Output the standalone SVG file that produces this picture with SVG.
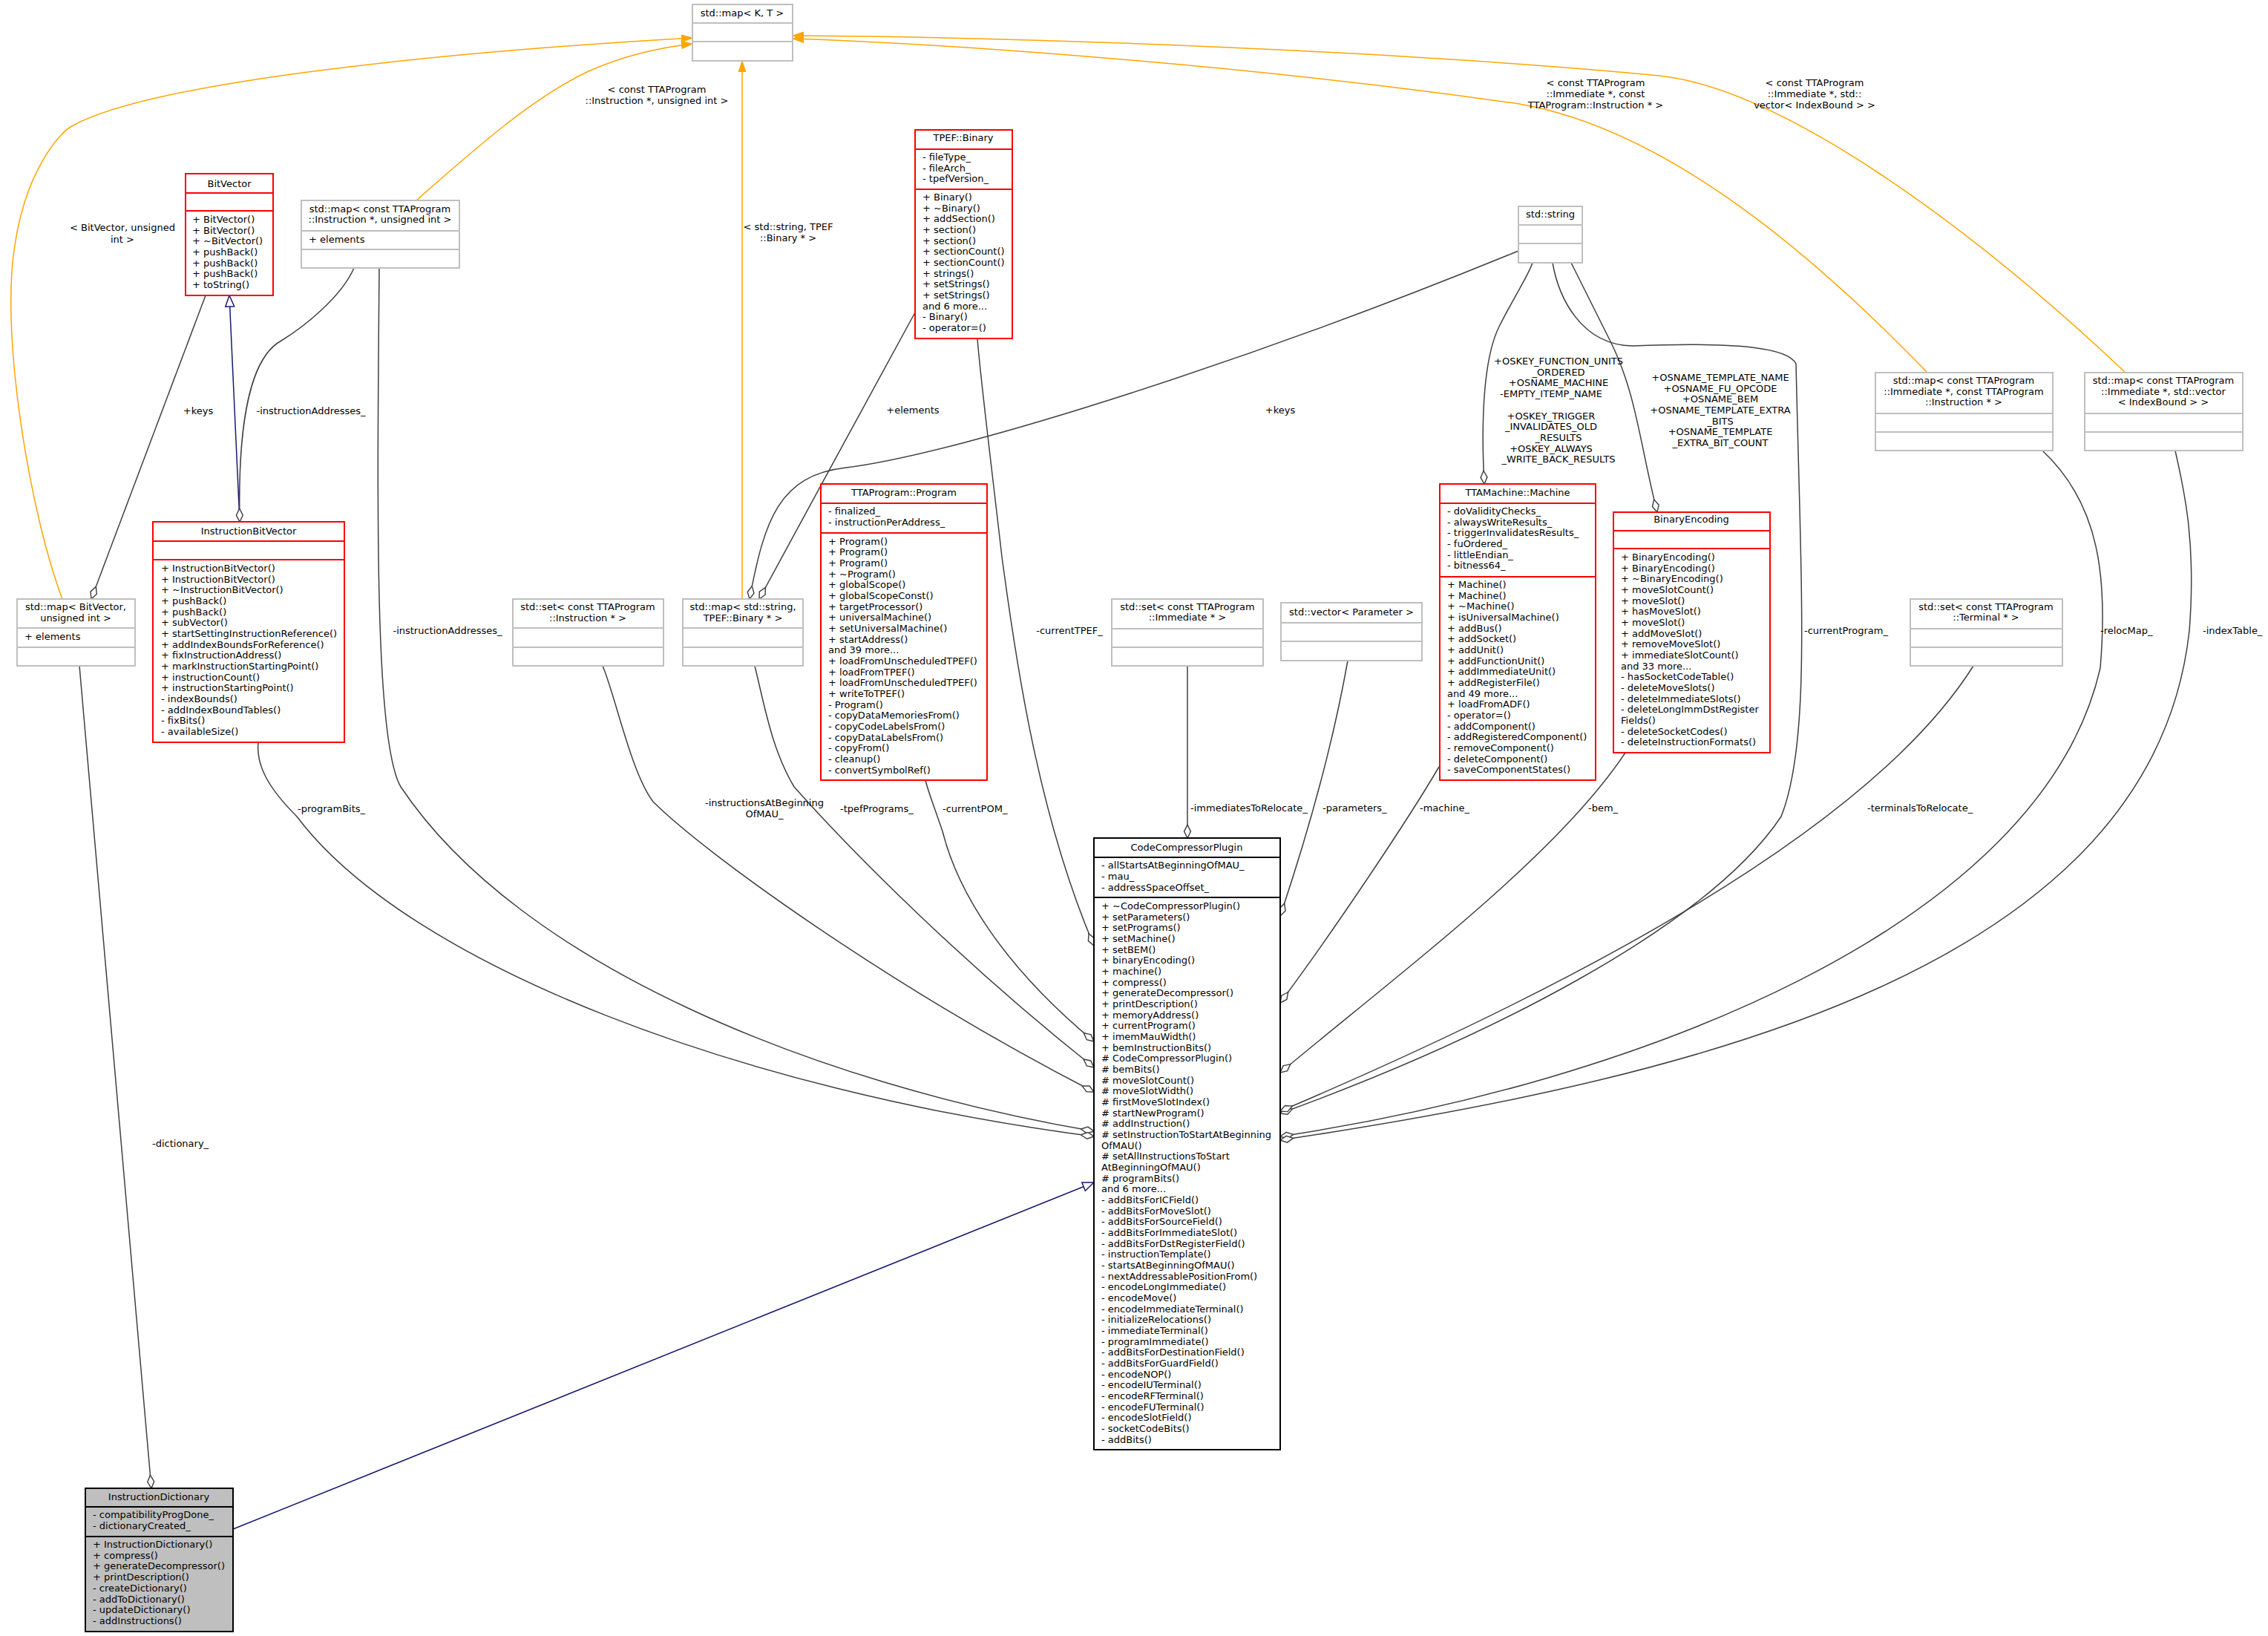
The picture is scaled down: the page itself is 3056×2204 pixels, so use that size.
<svg xmlns="http://www.w3.org/2000/svg" width="3056" height="2204" viewBox="0 0 3056 2204">
<style>
text{font-family:"DejaVu Sans","Liberation Sans",sans-serif;font-size:13px;fill:#000}
.c{text-anchor:middle}
.bx{fill:#fff;stroke-width:2}
.red{stroke:#ff0000}
.gry{stroke:#bfbfbf}
.blk{stroke:#000}
.sep{stroke-width:2}
.e{fill:none;stroke:#404040;stroke-width:1.5}
.o{fill:none;stroke:#ffa500;stroke-width:1.5}
.n{fill:none;stroke:#191970;stroke-width:1.5}
</style>
<defs>
<marker id="dia" markerUnits="userSpaceOnUse" markerWidth="20" markerHeight="12" refX="0" refY="5" orient="auto" viewBox="0 0 18 10"><path d="M0,5 L8,1 L16,5 L8,9 Z" fill="#fff" stroke="#404040" stroke-width="1.3"/></marker>
<marker id="oar" markerUnits="userSpaceOnUse" markerWidth="16" markerHeight="12" refX="15" refY="6" orient="auto" viewBox="0 0 16 12"><path d="M0,1 L15,6 L0,11 Z" fill="#ffa500" stroke="#ffa500"/></marker>
<marker id="gen" markerUnits="userSpaceOnUse" markerWidth="18" markerHeight="14" refX="16" refY="7" orient="auto" viewBox="0 0 18 14"><path d="M1,1 L16,7 L1,13 Z" fill="#fff" stroke="#191970" stroke-width="1.5"/></marker>
</defs>
<rect width="3056" height="2204" fill="#fff"/>
<g id="connectors">
<path class="o" marker-end="url(#oar)" d="M84,807 C40,690 0,450 20,330 C35,230 80,180 95,171 C200,110 600,70 933,51"/>
<path class="o" marker-end="url(#oar)" d="M561,270 C640,200 720,130 793,96 C840,75 890,64 933,59"/>
<path class="o" marker-end="url(#oar)" d="M1000,807 L1000,82"/>
<path class="o" marker-end="url(#oar)" d="M2597,502 C2450,350 2250,175 2047,140 C1700,90 1300,60 1068,52"/>
<path class="o" marker-end="url(#oar)" d="M2864,502 C2650,300 2400,120 2236,102 C1900,70 1400,50 1068,48"/>
<path class="n" marker-end="url(#gen)" d="M323,703 L309,398"/>
<path class="n" marker-end="url(#gen)" d="M314,2060 L1474,1593"/>
<path class="e" marker-start="url(#dia)" d="M123,807 L277,398"/>
<path class="e" marker-start="url(#dia)" d="M323,703 C320,560 340,480 379,459 C410,440 460,400 477,361"/>
<path class="e" marker-start="url(#dia)" d="M1474,1524 C1100,1460 700,1300 540,1060 C505,1000 508,700 511,361"/>
<path class="e" marker-start="url(#dia)" d="M1474,1531 C1000,1470 550,1300 400,1100 C360,1060 345,1030 348,1000"/>
<path class="e" marker-start="url(#dia)" d="M1474,1471 C1200,1330 950,1150 880,1080 C850,1040 830,940 812,897"/>
<path class="e" marker-start="url(#dia)" d="M1474,1438 C1300,1300 1150,1150 1070,1060 C1040,1010 1030,950 1017,897"/>
<path class="e" marker-start="url(#dia)" d="M1474,1403 C1350,1300 1290,1200 1270,1120 C1260,1090 1250,1065 1247,1051"/>
<path class="e" marker-start="url(#dia)" d="M1474,1274 C1400,1100 1370,900 1350,750 C1335,620 1320,500 1317,456"/>
<path class="e" marker-start="url(#dia)" d="M1023,807 C1080,700 1180,520 1233,421"/>
<path class="e" marker-start="url(#dia)" d="M1010,807 C1030,700 1050,640 1140,630 C1300,610 1700,480 2046,338"/>
<path class="e" marker-start="url(#dia)" d="M2000,652 C1995,560 2000,480 2020,440 C2040,400 2060,370 2065,354"/>
<path class="e" marker-start="url(#dia)" d="M2233,690 C2210,600 2205,530 2170,460 C2150,420 2130,380 2117,354"/>
<path class="e" marker-start="url(#dia)" d="M1725,1500 C2000,1400 2300,1250 2400,1100 C2440,1000 2427,800 2420,490 C2410,470 2350,460 2200,466 C2130,465 2100,400 2092,354"/>
<path class="e" marker-start="url(#dia)" d="M1725,1497 C2000,1380 2500,1150 2659,897"/>
<path class="e" marker-start="url(#dia)" d="M1725,1531 C2200,1460 2750,1250 2830,900 C2840,780 2830,680 2752,607"/>
<path class="e" marker-start="url(#dia)" d="M1725,1536 C2300,1450 2900,1300 2950,850 C2960,720 2940,650 2931,607"/>
<path class="e" marker-start="url(#dia)" d="M1600,1129 L1600,897"/>
<path class="e" marker-start="url(#dia)" d="M1725,1234 C1770,1100 1800,980 1816,890"/>
<path class="e" marker-start="url(#dia)" d="M1725,1351 C1800,1250 1900,1100 1939,1033"/>
<path class="e" marker-start="url(#dia)" d="M1725,1445 C1900,1300 2100,1150 2190,1014"/>
<path class="e" marker-start="url(#dia)" d="M204,2005 L107,897"/>
<text class="c" x="165" y="311">&lt; BitVector, unsigned</text><text class="c" x="165" y="327">int &gt;</text>
<text class="c" x="885" y="125">&lt; const TTAProgram</text><text class="c" x="885" y="140">::Instruction *, unsigned int &gt;</text>
<text class="c" x="1062" y="310">&lt; std::string, TPEF</text><text class="c" x="1062" y="325">::Binary * &gt;</text>
<text class="c" x="2150" y="116">&lt; const TTAProgram</text><text class="c" x="2150" y="131">::Immediate *, const</text><text class="c" x="2150" y="146">TTAProgram::Instruction * &gt;</text>
<text class="c" x="2445" y="116">&lt; const TTAProgram</text><text class="c" x="2445" y="131">::Immediate *, std::</text><text class="c" x="2445" y="146">vector&lt; IndexBound &gt; &gt;</text>
<text class="c" x="267" y="558">+keys</text>
<text class="c" x="419" y="558">-instructionAddresses_</text>
<text class="c" x="603" y="854">-instructionAddresses_</text>
<text class="c" x="1230" y="557">+elements</text>
<text class="c" x="1725" y="557">+keys</text>
<text class="c" x="1441" y="854">-currentTPEF_</text>
<text x="401" y="1094">-programBits_</text>
<text class="c" x="1030" y="1086">-instructionsAtBeginning</text><text class="c" x="1030" y="1101">OfMAU_</text>
<text x="1132" y="1094">-tpefPrograms_</text>
<text x="1270" y="1094">-currentPOM_</text>
<text x="205" y="1545">-dictionary_</text>
<text x="1604" y="1093">-immediatesToRelocate_</text>
<text x="1782" y="1093">-parameters_</text>
<text x="1913" y="1093">-machine_</text>
<text x="2140" y="1093">-bem_</text>
<text x="2516" y="1093">-terminalsToRelocate_</text>
<text x="2431" y="854">-currentProgram_</text>
<text x="2830" y="854">-relocMap_</text>
<text x="2968" y="854">-indexTable_</text>
<g class="c"><text x="2100" y="491">+OSKEY_FUNCTION_UNITS</text><text x="2100" y="506">_ORDERED</text><text x="2100" y="520">+OSNAME_MACHINE</text><text x="2090" y="535">-EMPTY_ITEMP_NAME</text><text x="2090" y="565">+OSKEY_TRIGGER</text><text x="2090" y="579">_INVALIDATES_OLD</text><text x="2100" y="594">_RESULTS</text><text x="2090" y="609">+OSKEY_ALWAYS</text><text x="2100" y="623">_WRITE_BACK_RESULTS</text></g>
<g class="c"><text x="2318" y="513">+OSNAME_TEMPLATE_NAME</text><text x="2318" y="528">+OSNAME_FU_OPCODE</text><text x="2318" y="542">+OSNAME_BEM</text><text x="2318" y="557">+OSNAME_TEMPLATE_EXTRA</text><text x="2318" y="572">_BITS</text><text x="2318" y="586">+OSNAME_TEMPLATE</text><text x="2318" y="601">_EXTRA_BIT_COUNT</text></g>
</g>
<g id="mapKT"><rect class="bx gry" x="933" y="6" width="135" height="76"/><line class="gry sep" x1="933" y1="31" x2="1068" y2="31"/><line class="gry sep" x1="933" y1="56" x2="1068" y2="56"/><text class="c" x="1000" y="22">std::map&lt; K, T &gt;</text></g>
<g id="BitVector"><rect class="bx red" x="250" y="234" width="118" height="164"/><line class="red sep" x1="250" y1="260" x2="368" y2="260"/><line class="red sep" x1="250" y1="284" x2="368" y2="284"/><text class="c" x="309" y="252">BitVector</text>
<text x="259" y="300">+ BitVector()</text><text x="259" y="314.7">+ BitVector()</text><text x="259" y="329.3">+ ~BitVector()</text><text x="259" y="344">+ pushBack()</text><text x="259" y="358.7">+ pushBack()</text><text x="259" y="373.3">+ pushBack()</text><text x="259" y="388">+ toString()</text></g>
<g id="mapInstrUint"><rect class="bx gry" x="406" y="270" width="213" height="91"/><line class="gry sep" x1="406" y1="311" x2="619" y2="311"/><line class="gry sep" x1="406" y1="336" x2="619" y2="336"/><text class="c" x="512" y="286">std::map&lt; const TTAProgram</text><text class="c" x="512" y="300">::Instruction *, unsigned int &gt;</text><text x="416" y="327">+ elements</text></g>
<g id="InstructionBitVector"><rect class="bx red" x="206" y="703" width="258" height="297"/><line class="red sep" x1="206" y1="729" x2="464" y2="729"/><line class="red sep" x1="206" y1="754" x2="464" y2="754"/><text class="c" x="335" y="720">InstructionBitVector</text>
<g transform="translate(217,0)"><text y="770">+ InstructionBitVector()</text><text y="784.7">+ InstructionBitVector()</text><text y="799.3">+ ~InstructionBitVector()</text><text y="814">+ pushBack()</text><text y="828.7">+ pushBack()</text><text y="843.3">+ subVector()</text><text y="858">+ startSettingInstructionReference()</text><text y="872.7">+ addIndexBoundsForReference()</text><text y="887.3">+ fixInstructionAddress()</text><text y="902">+ markInstructionStartingPoint()</text><text y="916.7">+ instructionCount()</text><text y="931.3">+ instructionStartingPoint()</text><text y="946">- indexBounds()</text><text y="960.7">- addIndexBoundTables()</text><text y="975.3">- fixBits()</text><text y="990">- availableSize()</text></g></g>
<g id="mapBitVector"><rect class="bx gry" x="23" y="807" width="159" height="90"/><line class="gry sep" x1="23" y1="846" x2="182" y2="846"/><line class="gry sep" x1="23" y1="872" x2="182" y2="872"/><text class="c" x="102" y="822">std::map&lt; BitVector,</text><text class="c" x="102" y="837">unsigned int &gt;</text><text x="33" y="862">+ elements</text></g>
<g id="setInstr"><rect class="bx gry" x="691" y="807" width="203" height="90"/><line class="gry sep" x1="691" y1="846" x2="894" y2="846"/><line class="gry sep" x1="691" y1="872" x2="894" y2="872"/><text class="c" x="792" y="822">std::set&lt; const TTAProgram</text><text class="c" x="792" y="837">::Instruction * &gt;</text></g>
<g id="mapStringBinary"><rect class="bx gry" x="920" y="807" width="162" height="90"/><line class="gry sep" x1="920" y1="846" x2="1082" y2="846"/><line class="gry sep" x1="920" y1="872" x2="1082" y2="872"/><text class="c" x="1001" y="822">std::map&lt; std::string,</text><text class="c" x="1001" y="837">TPEF::Binary * &gt;</text></g>
<g id="Binary"><rect class="bx red" x="1233" y="175" width="131" height="281"/><line class="red sep" x1="1233" y1="201" x2="1364" y2="201"/><line class="red sep" x1="1233" y1="255" x2="1364" y2="255"/><text class="c" x="1298" y="190">TPEF::Binary</text>
<g transform="translate(1243,0)"><text y="216">- fileType_</text><text y="230.7">- fileArch_</text><text y="245.3">- tpefVersion_</text><text y="270">+ Binary()</text><text y="284.7">+ ~Binary()</text><text y="299.3">+ addSection()</text><text y="314">+ section()</text><text y="328.7">+ section()</text><text y="343.3">+ sectionCount()</text><text y="358">+ sectionCount()</text><text y="372.7">+ strings()</text><text y="387.3">+ setStrings()</text><text y="402">+ setStrings()</text><text y="416.7">and 6 more...</text><text y="431.3">- Binary()</text><text y="446">- operator=()</text></g></g>
<g id="string"><rect class="bx gry" x="2046" y="278" width="86" height="76"/><line class="gry sep" x1="2046" y1="303" x2="2132" y2="303"/><line class="gry sep" x1="2046" y1="328" x2="2132" y2="328"/><text class="c" x="2089" y="293">std::string</text></g>
<g id="Program"><rect class="bx red" x="1106" y="652" width="224" height="399"/><line class="red sep" x1="1106" y1="678" x2="1330" y2="678"/><line class="red sep" x1="1106" y1="718" x2="1330" y2="718"/><text class="c" x="1218" y="668">TTAProgram::Program</text>
<g transform="translate(1116,0)"><text y="693">- finalized_</text><text y="707.7">- instructionPerAddress_</text><text y="733.5">+ Program()</text><text y="748.2">+ Program()</text><text y="762.8">+ Program()</text><text y="777.5">+ ~Program()</text><text y="792.2">+ globalScope()</text><text y="806.8">+ globalScopeConst()</text><text y="821.5">+ targetProcessor()</text><text y="836.2">+ universalMachine()</text><text y="850.9">+ setUniversalMachine()</text><text y="865.5">+ startAddress()</text><text y="880.2">and 39 more...</text><text y="894.9">+ loadFromUnscheduledTPEF()</text><text y="909.5">+ loadFromTPEF()</text><text y="924.2">+ loadFromUnscheduledTPEF()</text><text y="938.9">+ writeToTPEF()</text><text y="953.5">- Program()</text><text y="968.2">- copyDataMemoriesFrom()</text><text y="982.9">- copyCodeLabelsFrom()</text><text y="997.5">- copyDataLabelsFrom()</text><text y="1012.2">- copyFrom()</text><text y="1026.9">- cleanup()</text><text y="1041.5">- convertSymbolRef()</text></g></g>
<g id="setImm"><rect class="bx gry" x="1498" y="807" width="204" height="90"/><line class="gry sep" x1="1498" y1="847" x2="1702" y2="847"/><line class="gry sep" x1="1498" y1="872" x2="1702" y2="872"/><text class="c" x="1600" y="822">std::set&lt; const TTAProgram</text><text class="c" x="1600" y="836">::Immediate * &gt;</text></g>
<g id="vectorParam"><rect class="bx gry" x="1726" y="812" width="190" height="78"/><line class="gry sep" x1="1726" y1="839" x2="1916" y2="839"/><line class="gry sep" x1="1726" y1="864" x2="1916" y2="864"/><text class="c" x="1821" y="829">std::vector&lt; Parameter &gt;</text></g>
<g id="Machine"><rect class="bx red" x="1940" y="652" width="210" height="399"/><line class="red sep" x1="1940" y1="678" x2="2150" y2="678"/><line class="red sep" x1="1940" y1="777" x2="2150" y2="777"/><text class="c" x="2045" y="668">TTAMachine::Machine</text>
<g transform="translate(1950,0)"><text y="693">- doValidityChecks_</text><text y="707.7">- alwaysWriteResults_</text><text y="722.3">- triggerInvalidatesResults_</text><text y="737">- fuOrdered_</text><text y="751.7">- littleEndian_</text><text y="766.3">- bitness64_</text><text y="792">+ Machine()</text><text y="806.7">+ Machine()</text><text y="821.3">+ ~Machine()</text><text y="836">+ isUniversalMachine()</text><text y="850.7">+ addBus()</text><text y="865.3">+ addSocket()</text><text y="880">+ addUnit()</text><text y="894.7">+ addFunctionUnit()</text><text y="909.3">+ addImmediateUnit()</text><text y="924">+ addRegisterFile()</text><text y="938.7">and 49 more...</text><text y="953.3">+ loadFromADF()</text><text y="968">- operator=()</text><text y="982.7">- addComponent()</text><text y="997.3">- addRegisteredComponent()</text><text y="1012">- removeComponent()</text><text y="1026.7">- deleteComponent()</text><text y="1041.3">- saveComponentStates()</text></g></g>
<g id="BinaryEncoding"><rect class="bx red" x="2174" y="690" width="211" height="324"/><line class="red sep" x1="2174" y1="715" x2="2385" y2="715"/><line class="red sep" x1="2174" y1="739" x2="2385" y2="739"/><text class="c" x="2279" y="704">BinaryEncoding</text>
<g transform="translate(2184,0)"><text y="755">+ BinaryEncoding()</text><text y="769.7">+ BinaryEncoding()</text><text y="784.3">+ ~BinaryEncoding()</text><text y="799">+ moveSlotCount()</text><text y="813.7">+ moveSlot()</text><text y="828.3">+ hasMoveSlot()</text><text y="843">+ moveSlot()</text><text y="857.7">+ addMoveSlot()</text><text y="872.3">+ removeMoveSlot()</text><text y="887">+ immediateSlotCount()</text><text y="901.7">and 33 more...</text><text y="916.3">- hasSocketCodeTable()</text><text y="931">- deleteMoveSlots()</text><text y="945.7">- deleteImmediateSlots()</text><text y="960.3">- deleteLongImmDstRegister</text><text y="975">Fields()</text><text y="989.7">- deleteSocketCodes()</text><text y="1004.3">- deleteInstructionFormats()</text></g></g>
<g id="mapImmInstr"><rect class="bx gry" x="2527" y="502" width="239" height="105"/><line class="gry sep" x1="2527" y1="557" x2="2766" y2="557"/><line class="gry sep" x1="2527" y1="582" x2="2766" y2="582"/><text class="c" x="2646" y="517">std::map&lt; const TTAProgram</text><text class="c" x="2646" y="532">::Immediate *, const TTAProgram</text><text class="c" x="2646" y="546">::Instruction * &gt;</text></g>
<g id="mapImmVec"><rect class="bx gry" x="2809" y="502" width="213" height="105"/><line class="gry sep" x1="2809" y1="557" x2="3022" y2="557"/><line class="gry sep" x1="2809" y1="582" x2="3022" y2="582"/><text class="c" x="2915" y="517">std::map&lt; const TTAProgram</text><text class="c" x="2915" y="532">::Immediate *, std::vector</text><text class="c" x="2915" y="546">&lt; IndexBound &gt; &gt;</text></g>
<g id="setTerminal"><rect class="bx gry" x="2574" y="807" width="205" height="90"/><line class="gry sep" x1="2574" y1="847" x2="2779" y2="847"/><line class="gry sep" x1="2574" y1="872" x2="2779" y2="872"/><text class="c" x="2676" y="822">std::set&lt; const TTAProgram</text><text class="c" x="2676" y="836">::Terminal * &gt;</text></g>
<g id="CodeCompressorPlugin"><rect class="bx blk" x="1474" y="1129" width="251" height="824"/><line class="blk sep" x1="1474" y1="1155" x2="1725" y2="1155"/><line class="blk sep" x1="1474" y1="1209" x2="1725" y2="1209"/><text class="c" x="1599" y="1146">CodeCompressorPlugin</text>
<g transform="translate(1484,0)"><text y="1170">- allStartsAtBeginningOfMAU_</text><text y="1185">- mau_</text><text y="1200">- addressSpaceOffset_</text>
<text y="1225">+ ~CodeCompressorPlugin()</text><text y="1239.7">+ setParameters()</text><text y="1254.3">+ setPrograms()</text><text y="1269">+ setMachine()</text><text y="1283.7">+ setBEM()</text><text y="1298.3">+ binaryEncoding()</text><text y="1313">+ machine()</text><text y="1327.7">+ compress()</text><text y="1342.3">+ generateDecompressor()</text><text y="1357">+ printDescription()</text><text y="1371.7">+ memoryAddress()</text><text y="1386.3">+ currentProgram()</text><text y="1401">+ imemMauWidth()</text><text y="1415.7">+ bemInstructionBits()</text><text y="1430.3"># CodeCompressorPlugin()</text><text y="1445"># bemBits()</text><text y="1459.7"># moveSlotCount()</text><text y="1474.3"># moveSlotWidth()</text><text y="1489"># firstMoveSlotIndex()</text><text y="1503.7"># startNewProgram()</text><text y="1518.3"># addInstruction()</text><text y="1533"># setInstructionToStartAtBeginning</text><text y="1547.7">OfMAU()</text><text y="1562.3"># setAllInstructionsToStart</text><text y="1577">AtBeginningOfMAU()</text><text y="1591.7"># programBits()</text><text y="1606.3">and 6 more...</text><text y="1621">- addBitsForICField()</text><text y="1635.7">- addBitsForMoveSlot()</text><text y="1650.3">- addBitsForSourceField()</text><text y="1665">- addBitsForImmediateSlot()</text><text y="1679.7">- addBitsForDstRegisterField()</text><text y="1694.3">- instructionTemplate()</text><text y="1709">- startsAtBeginningOfMAU()</text><text y="1723.7">- nextAddressablePositionFrom()</text><text y="1738.3">- encodeLongImmediate()</text><text y="1753">- encodeMove()</text><text y="1767.7">- encodeImmediateTerminal()</text><text y="1782.3">- initializeRelocations()</text><text y="1797">- immediateTerminal()</text><text y="1811.7">- programImmediate()</text><text y="1826.3">- addBitsForDestinationField()</text><text y="1841">- addBitsForGuardField()</text><text y="1855.7">- encodeNOP()</text><text y="1870.3">- encodeIUTerminal()</text><text y="1885">- encodeRFTerminal()</text><text y="1899.7">- encodeFUTerminal()</text><text y="1914.3">- encodeSlotField()</text><text y="1929">- socketCodeBits()</text><text y="1943.7">- addBits()</text></g></g>
<g id="InstructionDictionary"><rect x="115" y="2005" width="199" height="193" fill="#bfbfbf" stroke="#000" stroke-width="2"/><line class="blk sep" x1="115" y1="2030" x2="314" y2="2030"/><line class="blk sep" x1="115" y1="2070" x2="314" y2="2070"/><text class="c" x="214" y="2021">InstructionDictionary</text>
<g transform="translate(125,0)"><text y="2045">- compatibilityProgDone_</text><text y="2060">- dictionaryCreated_</text><text y="2085">+ InstructionDictionary()</text><text y="2099.7">+ compress()</text><text y="2114.4">+ generateDecompressor()</text><text y="2129.1">+ printDescription()</text><text y="2143.8">- createDictionary()</text><text y="2158.5">- addToDictionary()</text><text y="2173.2">- updateDictionary()</text><text y="2187.9">- addInstructions()</text></g></g>
</svg>
